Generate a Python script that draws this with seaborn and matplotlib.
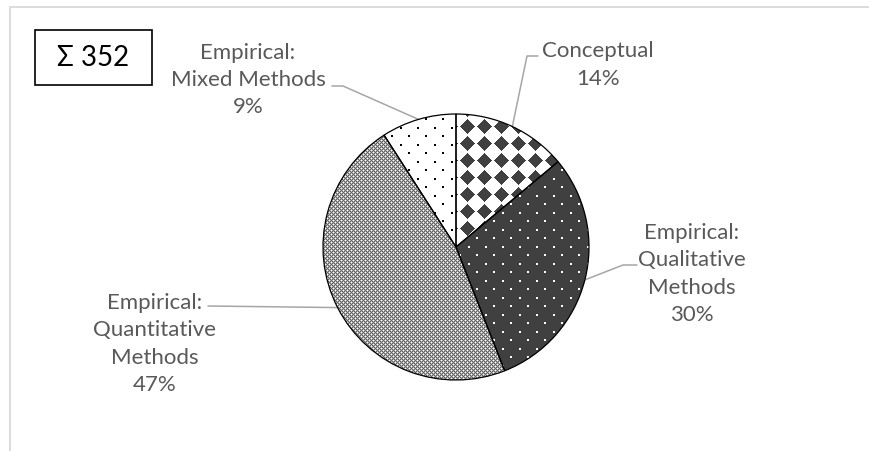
import numpy as np
import matplotlib
matplotlib.use("Agg")
import matplotlib.pyplot as plt
from matplotlib.patches import Rectangle
import seaborn as sns

categories = ["Conceptual", "Empirical:\nQualitative\nMethods",
              "Empirical:\nQuantitative\nMethods", "Empirical:\nMixed Methods"]
counts = [49, 106, 165, 32]
total_label = "Σ 352"

W, H = 870, 452
sns.set_theme(style="white")
plt.rcParams['font.family'] = ['Lato', 'DejaVu Sans']

fig = plt.figure(figsize=(W / 100, H / 100), dpi=100)
ax = fig.add_axes([0, 0, 1, 1])

# pie in pixel-like data coords (y up)
cx, cy, r = 456, H - 248, 133
wedges, _ = ax.pie(counts, radius=r, center=(cx, cy), startangle=90, counterclock=False,
                   colors=['none'] * len(counts),
                   wedgeprops=dict(edgecolor='black', linewidth=0.9, zorder=3))

# fill textures, clipped to each wedge
yy, xx = np.mgrid[0:H, 0:W]
dark = np.array(matplotlib.colors.to_rgb('#404040'))


def texture(kind):
    img = np.ones((H, W, 3))
    if kind == 'diamonds':
        u = (xx % 17) - 8
        v = (yy % 17) - 8
        img[np.abs(u) + np.abs(v) <= 7] = dark
    elif kind == 'darkdots':
        img[:] = dark
        m = ((xx % 17 < 2) & (yy % 17 < 2)) | (((xx + 8) % 17 < 2) & ((yy + 8) % 17 < 2))
        img[m] = 1.0
    elif kind == 'grid':
        img[:] = 0.7
        img[(xx + yy) % 2 == 0] = 0.38
        img[((xx % 4 == 1) & (yy % 4 == 1)) | ((xx % 4 == 3) & (yy % 4 == 3))] = 1.0
    elif kind == 'dots':
        m = ((xx % 17 < 2) & (yy % 17 < 2)) | (((xx + 8) % 17 < 2) & ((yy + 8) % 17 < 2))
        img[m] = 0.0
    return img


for w, kind in zip(wedges, ['diamonds', 'darkdots', 'grid', 'dots']):
    im = ax.imshow(texture(kind), extent=(0, W, 0, H), origin='upper',
                   interpolation='nearest', zorder=1)
    im.set_clip_path(w)

# labels and leader lines
total = sum(counts)
label_xy = [(598, 65), (692, 274), (155, 344), (248, 80)]
leader_start = [[(538, 57), (527, 57)], [(637, 266), (623, 266)],
                [(208, 307)], [(332, 87), (343, 87)]]
for w, cat, n, (lx, ly), pts in zip(wedges, categories, counts, label_xy, leader_start):
    ax.text(lx, H - ly, f"{cat}\n{round(100 * n / total)}%", ha='center', va='center',
            multialignment='center', fontsize=16, color='#595959', linespacing=1.45)
    mid = np.deg2rad((w.theta1 + w.theta2) / 2)
    px = [p[0] for p in pts] + [cx + r * np.cos(mid)]
    py = [H - p[1] for p in pts] + [cy + r * np.sin(mid)]
    ax.plot(px, py, color='#a6a6a6', lw=1.1, zorder=2)

# total box
ax.add_patch(Rectangle((35, H - 86), 117, 55, fill=False, edgecolor='black', lw=1.2, zorder=4))
ax.text(93.5, H - 58.5, total_label, ha='center', va='center', fontsize=20, color='black')

# chart area border
ax.add_patch(Rectangle((10, -20), W + 20, H - 8 + 20, fill=False, edgecolor='#d9d9d9', lw=1.3))

ax.set_xlim(0, W)
ax.set_ylim(0, H)
ax.axis('off')

fig.savefig('out.png', dpi=100)
